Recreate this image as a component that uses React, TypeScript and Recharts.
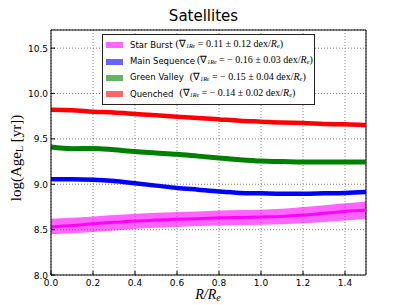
import { ComposedChart, Line, Area, XAxis, YAxis, CartesianGrid, Legend, ReferenceLine } from "recharts";

const radius = [0, 0.1, 0.2, 0.3, 0.4, 0.5, 0.6, 0.7, 0.8, 0.9, 1.0, 1.1, 1.2, 1.3, 1.4, 1.5];

const quenched = [9.82, 9.815, 9.8, 9.79, 9.775, 9.76, 9.745, 9.73, 9.715, 9.7, 9.69, 9.68, 9.675, 9.665, 9.66, 9.65];
const greenValley = [9.41, 9.392, 9.395, 9.38, 9.36, 9.345, 9.33, 9.31, 9.29, 9.27, 9.255, 9.25, 9.245, 9.245, 9.245, 9.245];
const mainSequence = [9.055, 9.055, 9.05, 9.035, 9.01, 8.985, 8.96, 8.94, 8.92, 8.905, 8.9, 8.895, 8.895, 8.9, 8.905, 8.915];
const starBurst = [8.53, 8.545, 8.565, 8.58, 8.595, 8.605, 8.615, 8.62, 8.63, 8.635, 8.64, 8.645, 8.66, 8.68, 8.7, 8.715];
const starBurstLo = [8.45, 8.46, 8.475, 8.49, 8.51, 8.52, 8.53, 8.54, 8.545, 8.55, 8.555, 8.56, 8.57, 8.585, 8.6, 8.62];
const starBurstHi = [8.62, 8.63, 8.645, 8.66, 8.675, 8.685, 8.695, 8.7, 8.71, 8.715, 8.72, 8.73, 8.75, 8.77, 8.79, 8.81];

const xTicks = [0, 0.2, 0.4, 0.6, 0.8, 1.0, 1.2, 1.4];
const yTicks = [8.0, 8.5, 9.0, 9.5, 10.0, 10.5];

const legendItems = [
  { name: "Star Burst", color: "#ff66ff", grad: "0.11 \u00b1 0.12", gap: 3 },
  { name: "Main Sequence", color: "#6666ff", grad: "\u2212 0.16 \u00b1 0.03", gap: 2 },
  { name: "Green Valley", color: "#66b366", grad: "\u2212 0.15 \u00b1 0.04", gap: 6 },
  { name: "Quenched", color: "#ff6666", grad: "\u2212 0.14 \u00b1 0.02", gap: 6 },
];

const data = radius.map((r, i) => ({
  r,
  q: quenched[i],
  gv: greenValley[i],
  ms: mainSequence[i],
  sb: starBurst[i],
  sbBand: [starBurstLo[i], starBurstHi[i]],
}));

const FONT = "'DejaVu Sans', sans-serif";
const SERIF = "'Liberation Serif', serif";

function XTick({ x, y, payload }: any) {
  return (
    <g>
      <line x1={x} y1={y} x2={x} y2={y - 4} stroke="#000" />
      <text x={x} y={y + 11} textAnchor="middle" fontSize={9} fontFamily={FONT} fill="#000">
        {payload.value.toFixed(1)}
      </text>
    </g>
  );
}

function YTick({ x, y, payload }: any) {
  return (
    <g>
      <line x1={x} y1={y} x2={x + 4} y2={y} stroke="#000" />
      <text x={x - 3} y={y + 3.5} textAnchor="end" fontSize={9} fontFamily={FONT} fill="#000">
        {payload.value.toFixed(1)}
      </text>
    </g>
  );
}

function SatLegend() {
  return (
    <div
      style={{
        border: "1px solid #222",
        background: "#fff",
        padding: "2px 0 1px 3px",
        width: 213,
        fontFamily: FONT,
        fontSize: 8.5,
        lineHeight: "13.4px",
        color: "#000",
        boxSizing: "border-box",
      }}
    >
      {legendItems.map((it) => (
        <div key={it.name} style={{ display: "flex", alignItems: "center", whiteSpace: "nowrap" }}>
          <span
            style={{ display: "inline-block", flexShrink: 0, width: 17, height: 6, background: it.color, marginRight: 7 }}
          />
          <span>{it.name}</span>
          <span style={{ fontFamily: SERIF, fontSize: 10, marginLeft: it.gap }}>
            (∇<sub style={{ fontSize: 6, fontStyle: "italic", verticalAlign: "-1px" }}>1Re</sub>
            {" = " + it.grad + " dex/"}
            <i>R</i>
            <sub style={{ fontSize: 6.5, fontStyle: "italic", verticalAlign: "-1px" }}>e</sub>)
          </span>
        </div>
      ))}
    </div>
  );
}

export default function App() {
  return (
    <div style={{ position: "absolute", left: 0, top: 0, width: 407, height: 305, background: "#fff" }}>
      <div
        style={{
          position: "absolute",
          left: 0,
          width: 407,
          top: 7,
          textAlign: "center",
          fontFamily: FONT,
          fontSize: 15,
        }}
      >
        Satellites
      </div>
      <div
        style={{
          position: "absolute",
          left: 208,
          top: 287,
          transform: "translateX(-50%)",
          fontFamily: SERIF,
          fontSize: 14,
          lineHeight: "15px",
          fontStyle: "italic",
          whiteSpace: "nowrap",
        }}
      >
        R/R<sub style={{ fontSize: 10, verticalAlign: "-2px" }}>e</sub>
      </div>
      <div
        style={{
          position: "absolute",
          left: 16,
          top: 158,
          transform: "translate(-50%, -50%) rotate(-90deg)",
          fontFamily: SERIF,
          fontSize: 15,
          whiteSpace: "nowrap",
        }}
      >
        log(Age<sub style={{ fontSize: 10, verticalAlign: "-2px" }}>L</sub> [yr])
      </div>
      <ComposedChart
        width={407}
        height={305}
        data={data}
        margin={{ top: 30, right: 41, bottom: 10, left: 0 }}
        style={{ position: "absolute", left: 0, top: 0 }}
      >
        <CartesianGrid stroke="#888" strokeDasharray="1 2" />
        <XAxis
          dataKey="r"
          type="number"
          domain={[0, 1.5]}
          ticks={xTicks}
          height={20}
          tickSize={0}
          tickMargin={0}
          tickLine={false}
          axisLine={{ stroke: "#000" }}
          tick={<XTick />}
        />
        <YAxis
          type="number"
          domain={[8, 10.7]}
          ticks={yTicks}
          width={51}
          tickSize={0}
          tickMargin={0}
          tickLine={false}
          axisLine={{ stroke: "#000" }}
          tick={<YTick />}
          allowDataOverflow
        />
        <ReferenceLine x={1.5} stroke="#000" />
        <ReferenceLine y={10.7} stroke="#000" />
        <Area
          dataKey="sbBand"
          type="monotone"
          fill="#ff00ff"
          fillOpacity={0.6}
          stroke="none"
          isAnimationActive={false}
        />
        <Line dataKey="sb" type="monotone" stroke="#ff00ff" strokeWidth={3} dot={false} isAnimationActive={false} />
        <Line dataKey="ms" type="monotone" stroke="#0000ff" strokeWidth={4.5} dot={false} isAnimationActive={false} />
        <Line dataKey="gv" type="monotone" stroke="#008000" strokeWidth={5} dot={false} isAnimationActive={false} />
        <Line dataKey="q" type="monotone" stroke="#ff0000" strokeWidth={4.5} dot={false} isAnimationActive={false} />
        <Legend
          layout="horizontal"
          verticalAlign="middle"
          content={<SatLegend />}
          wrapperStyle={{ position: "absolute", left: 102, top: 34, width: "auto" }}
        />
      </ComposedChart>
    </div>
  );
}
